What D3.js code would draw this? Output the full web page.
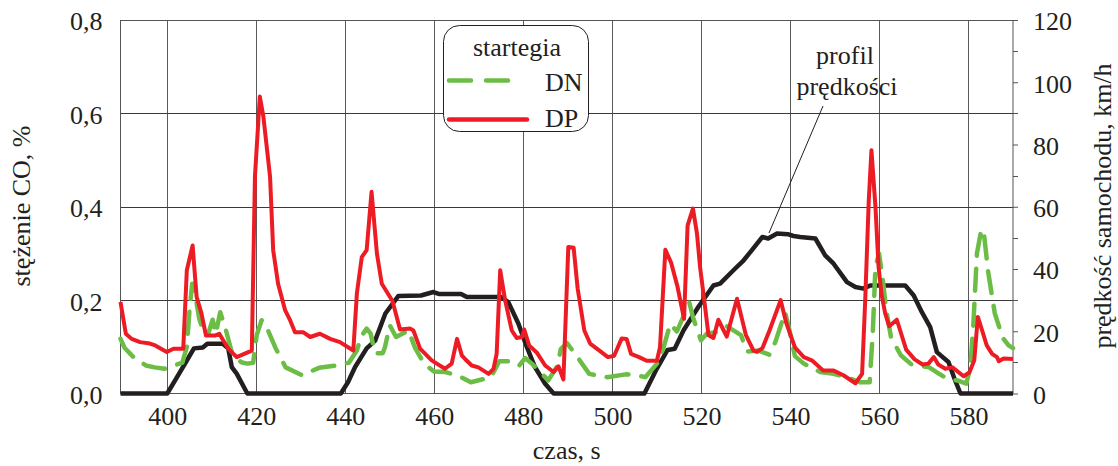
<!DOCTYPE html>
<html>
<head>
<meta charset="utf-8">
<script src="https://cdn.jsdelivr.net/npm/d3@7"></script>
<style>
  html, body { margin: 0; padding: 0; background: #fff; }
  svg text { font-family: "Liberation Serif", "Times New Roman", serif; fill: #231f20; }
</style>
</head>
<body>
<div id="chart"></div>
<script>
// x axis ticks (czas, s)
var timeTicks = [400, 420, 440, 460, 480, 500, 520, 540, 560, 580];
var coTicks = [0, 0.2, 0.4, 0.6, 0.8];
var speedTicks = [0, 20, 40, 60, 80, 100, 120];
var speedMinorTicks = [10, 30, 50, 70, 90, 110];

// DP strategy - CO concentration, %
var dpTime = [389.5, 390.7, 392, 393.9, 396.1, 397.3, 399.9, 401.4, 403.6, 404.4, 405.7, 406.6, 407.7, 408.7, 410.7, 411.7, 413.7, 415.6, 419,
  419.7, 420.8, 421.6, 423.1, 423.8, 424.9, 426.5, 427.6, 428.7, 430.6, 432.1, 434.3, 436.6, 438.8, 441.8, 442.6, 443.7, 444.8, 445.9,
  447.1, 448.2, 450.6, 452.3, 454.6, 455.3, 456.8, 459.4, 462.4, 463.9, 465.1, 466.2, 466.9, 468.4, 469.9, 472.2, 473.3, 474.0, 474.8,
  475.9, 477.4, 478.5, 479.7, 480.2, 481.3, 483.0, 484.9, 486.8, 487.9, 489.0, 490.1, 491.3, 492.2, 493.7, 495, 497.1, 499, 500.4,
  502.1, 503.2, 504.2, 506, 507.7, 510, 510.7, 511.9, 513.2, 514.6, 516.1, 516.9, 518.1, 519, 519.7, 520.7, 521.6, 522.7, 523.8,
  525.7, 528, 530, 531.7, 532.5, 533.7, 535.3, 537.8, 539, 541, 543, 544.8, 547.4, 549.7, 551.9, 554.6, 556.1, 556.8, 557.6, 558.2,
  559.1, 559.8, 560.5, 561.3, 562.2, 563.9, 566, 567.9, 569.7, 571, 572.2, 573.2, 574.8, 576.4, 578.9, 580.2, 581.3, 582.1, 583.2,
  584.1, 585.3, 586.4, 586.8, 587.9, 590];
var dpCO = [0.196, 0.128, 0.117, 0.110, 0.107, 0.103, 0.089, 0.096, 0.096, 0.264, 0.317, 0.207, 0.171, 0.124, 0.124, 0.128, 0.096, 0.078, 0.092,
  0.464, 0.636, 0.593, 0.464, 0.307, 0.235, 0.178, 0.157, 0.131, 0.131, 0.121, 0.128, 0.117, 0.110, 0.092, 0.214, 0.292, 0.307, 0.432,
  0.300, 0.235, 0.198, 0.137, 0.139, 0.135, 0.096, 0.071, 0.053, 0.064, 0.117, 0.081, 0.074, 0.060, 0.056, 0.042, 0.053, 0.085, 0.264,
  0.200, 0.135, 0.119, 0.121, 0.137, 0.103, 0.088, 0.060, 0.046, 0.058, 0.030, 0.314, 0.312, 0.225, 0.135, 0.107, 0.092, 0.078, 0.081,
  0.118, 0.117, 0.085, 0.078, 0.070, 0.070, 0.099, 0.308, 0.280, 0.230, 0.160, 0.360, 0.396, 0.343, 0.271, 0.195, 0.125, 0.119, 0.158,
  0.122, 0.203, 0.125, 0.092, 0.089, 0.097, 0.135, 0.200, 0.153, 0.099, 0.078, 0.071, 0.049, 0.049, 0.039, 0.022, 0.042, 0.200, 0.414, 0.521,
  0.400, 0.271, 0.210, 0.171, 0.144, 0.158, 0.094, 0.073, 0.062, 0.064, 0.078, 0.062, 0.053, 0.056, 0.037, 0.045, 0.071, 0.164, 0.131,
  0.103, 0.085, 0.078, 0.069, 0.075, 0.074];

// DN strategy - CO concentration, %
var dnTime = [389.5, 390.4, 392.4, 395.2, 397.2, 399.4, 403.4, 404.4, 405.0, 405.6, 406.4, 407.2, 408.1, 409.2, 410.2, 410.9, 411.9, 413,
  414.6, 416.6, 418, 419.3, 420.1, 421.2, 422.5, 424.4, 426.6, 430.3, 434.1, 437.8, 440.8, 442.6, 443.5, 444.8, 445.7, 446.7, 448.4,
  448.9, 450, 451.4, 454.2, 455.7, 457.7, 459.9, 462.4, 465.2, 468.2, 472.7, 474.6, 477.6, 479.1, 480.4, 481.9, 484.6, 485.6, 487.7,
  488.4, 489.8, 492, 494.8, 496.5, 498.8, 503, 505.5, 507.4, 510.2, 511.5, 513, 514.5, 515.6, 517.3, 518.2, 519.9, 521.2, 523.6, 525.7,
  528.9, 530.2, 532.8, 535.3, 536.6, 538.8, 539.8, 541, 543, 546.7, 549.7, 552.7, 555.7, 557.8, 558.5, 559.1, 559.9, 560.8, 561.5,
  562.6, 564.8, 567.1, 571.2, 572.8, 575.3, 577.5, 579.5, 580.4, 581.1, 581.9, 582.9, 583.5, 584.4, 585.9, 587.7, 589, 590];
var dnCO = [0.117, 0.098, 0.078, 0.060, 0.056, 0.053, 0.066, 0.100, 0.178, 0.235, 0.205, 0.160, 0.133, 0.128, 0.158, 0.128, 0.174, 0.142,
  0.085, 0.067, 0.064, 0.066, 0.125, 0.157, 0.138, 0.096, 0.056, 0.039, 0.055, 0.060, 0.066, 0.092, 0.121, 0.139, 0.128, 0.086, 0.086,
  0.099, 0.146, 0.121, 0.135, 0.097, 0.064, 0.047, 0.046, 0.039, 0.024, 0.035, 0.069, 0.069, 0.060, 0.076, 0.064, 0.038, 0.028, 0.060,
  0.095, 0.108, 0.080, 0.042, 0.039, 0.035, 0.041, 0.039, 0.035, 0.066, 0.099, 0.149, 0.133, 0.157, 0.194, 0.160, 0.114, 0.128, 0.132, 0.144,
  0.125, 0.090, 0.092, 0.083, 0.110, 0.174, 0.135, 0.080, 0.064, 0.046, 0.042, 0.035, 0.024, 0.024, 0.130, 0.271, 0.300, 0.240, 0.180,
  0.120, 0.082, 0.063, 0.056, 0.046, 0.031, 0.028, 0.021, 0.055, 0.149, 0.300, 0.352, 0.340, 0.262, 0.172, 0.119, 0.103, 0.097];

// vehicle speed profile, km/h
var speedTime = [389.5, 400, 402, 404.4, 406, 408, 409, 412.5, 413.7, 414.5, 415.6, 418, 439, 440.6, 442.2, 444.8, 446.7, 449, 451.9,
  457, 459.8, 461, 466, 467.3, 475, 476.6, 478.9, 480.8, 482.6, 484.9, 486.8, 507.2, 510, 512.4, 514, 516, 519.3, 522.7, 524.2,
  527.2, 529.5, 531.3, 533.7, 535, 537, 539.4, 540.7, 542.2, 545.6, 547.8, 549.7, 552.7, 554.6, 556.4, 557.9, 565.8, 567.7, 569.5,
  571.4, 572.9, 575.5, 577, 578.2, 590];
var speedKmh = [0, 0, 4.8, 10.6, 14.5, 14.8, 16, 16, 14.5, 8.5, 6.4, 0, 0, 3.6, 8.5, 14.5, 17, 25.7, 31.3,
  31.5, 32.6, 32, 32, 31, 31, 29.4, 22.4, 14.9, 8.5, 3.1, 0, 0, 8, 14, 14.4, 20.3, 27.8, 34.7, 35.3,
  39.6, 42.8, 46, 50.3, 49.8, 51.4, 51.2, 50.6, 50.3, 49.8, 44.4, 41.7, 35.8, 34.2, 33.7, 34.7, 34.7, 31.5, 26.2,
  21.3, 13.3, 10.1, 4.2, 0, 0];

var legendLabels = ['DN', 'DP'];

var W = 1118, H = 466,
    plot = { left: 120.5, right: 1013, top: 20, bottom: 393.5 },
    green = '#6cbd45', red = '#ed1c24', black = '#231f20';

var svg = d3.select('#chart').append('svg')
  .attr('width', W)
  .attr('height', H);

var x = d3.scaleLinear().domain([389.5, 590]).range([plot.left, plot.right]);
var yCO = d3.scaleLinear().domain([0, 0.8]).range([plot.bottom, plot.top]);
var ySpeed = d3.scaleLinear().domain([0, 120]).range([plot.bottom, plot.top]);

var fmtCO = function(d) { return d3.format('.1f')(d).replace('.', ','); };

// grid
var grid = svg.append('g').attr('class', 'grid');
grid.selectAll('.vgrid')
  .data(timeTicks)
  .enter().append('line')
  .attr('x1', function(d) { return Math.round(x(d)) + 0.5; })
  .attr('x2', function(d) { return Math.round(x(d)) + 0.5; })
  .attr('y1', plot.top)
  .attr('y2', plot.bottom)
  .attr('stroke', '#5a5a5a')
  .attr('stroke-width', 1);

grid.selectAll('.hgrid')
  .data(coTicks.slice(1, -1))
  .enter().append('line')
  .attr('x1', plot.left)
  .attr('x2', plot.right)
  .attr('y1', function(d) { return Math.round(yCO(d)) + 0.5; })
  .attr('y2', function(d) { return Math.round(yCO(d)) + 0.5; })
  .attr('stroke', '#3a3a3a')
  .attr('stroke-width', 1);

// frame
svg.append('rect')
  .attr('x', plot.left)
  .attr('y', plot.top + 0.5)
  .attr('width', plot.right - plot.left)
  .attr('height', plot.bottom - plot.top - 0.5)
  .attr('fill', 'none')
  .attr('stroke', '#555')
  .attr('stroke-width', 1);

// left axis (no tick lines)
var leftAxis = svg.append('g')
  .attr('transform', 'translate(' + plot.left + ',0)')
  .call(d3.axisLeft(yCO).tickValues(coTicks).tickSize(0).tickPadding(18).tickFormat(fmtCO));
leftAxis.select('.domain').remove();
leftAxis.selectAll('text')
  .attr('font-size', 26)
  .attr('dy', '0.38em');

// right axis
var rightAxis = svg.append('g')
  .attr('transform', 'translate(' + plot.right + ',0)')
  .call(d3.axisRight(ySpeed).tickValues(speedTicks).tickSize(5).tickPadding(15));
rightAxis.select('.domain').remove();
rightAxis.selectAll('line').attr('stroke', '#555');
rightAxis.selectAll('text')
  .attr('font-size', 26)
  .attr('dy', '0.38em');

svg.append('g')
  .selectAll('line')
  .data(speedMinorTicks)
  .enter().append('line')
  .attr('x1', plot.right)
  .attr('x2', plot.right + 5)
  .attr('y1', function(d) { return Math.round(ySpeed(d)) + 0.5; })
  .attr('y2', function(d) { return Math.round(ySpeed(d)) + 0.5; })
  .attr('stroke', '#555');

// bottom axis
var bottomAxis = svg.append('g')
  .attr('transform', 'translate(0,' + plot.bottom + ')')
  .call(d3.axisBottom(x).tickValues(timeTicks).tickSize(0).tickPadding(26));
bottomAxis.select('.domain').remove();
bottomAxis.selectAll('text')
  .attr('font-size', 26)
  .attr('dy', '0.2em');

// axis titles
svg.append('text')
  .attr('x', (plot.left + plot.right) / 2)
  .attr('y', 459)
  .attr('text-anchor', 'middle')
  .attr('font-size', 26)
  .text('czas, s');

svg.append('text')
  .attr('transform', 'translate(30,206) rotate(-90)')
  .attr('text-anchor', 'middle')
  .attr('font-size', 26)
  .text('stężenie CO, %');

svg.append('text')
  .attr('transform', 'translate(1111,206) rotate(-90)')
  .attr('text-anchor', 'middle')
  .attr('font-size', 26)
  .text('prędkość samochodu, km/h');

// series
var lineCO = d3.line()
  .x(function(d) { return x(d[0]); })
  .y(function(d) { return yCO(d[1]); });
var lineSpeed = d3.line()
  .x(function(d) { return x(d[0]); })
  .y(function(d) { return ySpeed(d[1]); });

svg.append('path')
  .datum(d3.zip(speedTime, speedKmh))
  .attr('d', lineSpeed)
  .attr('fill', 'none')
  .attr('stroke', black)
  .attr('stroke-width', 4.5)
  .attr('stroke-linejoin', 'round');

svg.append('path')
  .datum(d3.zip(dnTime, dnCO))
  .attr('d', lineCO)
  .attr('fill', 'none')
  .attr('stroke', green)
  .attr('stroke-width', 4.5)
  .attr('stroke-dasharray', '22,13')
  .attr('stroke-linejoin', 'round')
  .attr('stroke-linecap', 'round');

svg.append('path')
  .datum(d3.zip(dpTime, dpCO))
  .attr('d', lineCO)
  .attr('fill', 'none')
  .attr('stroke', red)
  .attr('stroke-width', 4)
  .attr('stroke-linejoin', 'round');

// legend
var legend = svg.append('g').attr('class', 'legend');
legend.append('rect')
  .attr('x', 443.5)
  .attr('y', 25.5)
  .attr('width', 145)
  .attr('height', 106)
  .attr('rx', 16)
  .attr('fill', '#fff')
  .attr('stroke', '#231f20')
  .attr('stroke-width', 1);
legend.append('text')
  .attr('x', 517)
  .attr('y', 56)
  .attr('text-anchor', 'middle')
  .attr('font-size', 26)
  .text('startegia');

legend.selectAll('.item')
  .data(legendLabels)
  .enter().append('text')
  .attr('x', 545)
  .attr('y', function(d, i) { return 91 + i * 36; })
  .attr('font-size', 26)
  .text(function(d) { return d; });

legend.append('line')
  .attr('x1', 449).attr('x2', 510)
  .attr('y1', 80.5).attr('y2', 80.5)
  .attr('stroke', green)
  .attr('stroke-width', 4.5)
  .attr('stroke-dasharray', '22,15')
  .attr('stroke-linecap', 'round');
legend.append('line')
  .attr('x1', 449).attr('x2', 527)
  .attr('y1', 119.5).attr('y2', 119.5)
  .attr('stroke', red)
  .attr('stroke-width', 4.5)
  .attr('stroke-linecap', 'round');

// annotation
svg.append('text')
  .attr('x', 845)
  .attr('y', 64)
  .attr('text-anchor', 'middle')
  .attr('font-size', 26)
  .text('profil');
svg.append('text')
  .attr('x', 847)
  .attr('y', 95)
  .attr('text-anchor', 'middle')
  .attr('font-size', 26)
  .text('prędkości');
svg.append('line')
  .attr('x1', 823).attr('y1', 106)
  .attr('x2', 769).attr('y2', 233)
  .attr('stroke', black)
  .attr('stroke-width', 1);
</script>
</body>
</html>
